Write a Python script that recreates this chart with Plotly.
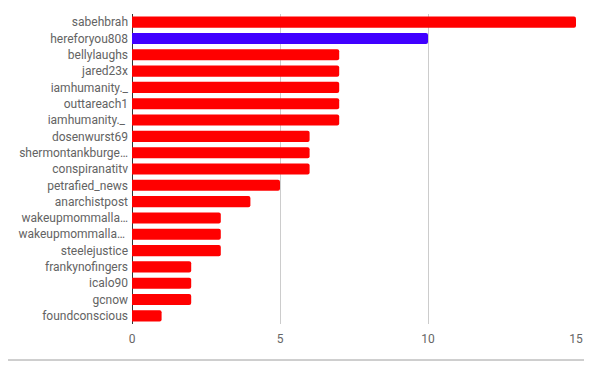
import plotly.graph_objects as go

names = ["sabehbrah", "hereforyou808", "bellylaughs", "jared23x", "iamhumanity._",
         "outtareach1", "iamhumanity._ ", "dosenwurst69", "shermontankburge…",
         "conspiranatitv", "petrafied_news", "anarchistpost", "wakeupmommalla…",
         "wakeupmommalla… ", "steelejustice", "frankynofingers", "icalo90", "gcnow",
         "foundconscious"]
values = [15, 10, 7, 7, 7, 7, 7, 6, 6, 6, 5, 4, 3, 3, 3, 2, 2, 2, 1]
colors = ["#ff0000", "#4000ff"] + ["#ff0000"] * 17
x_ticks = [0, 5, 10, 15]

fig = go.Figure(go.Bar(
    x=values, y=names, orientation="h",
    marker=dict(color=colors, line=dict(width=0), cornerradius=2),
    hoverinfo="x+y",
))

fig.update_layout(
    width=584, height=357,
    margin=dict(l=124, r=16, t=6, b=41),
    paper_bgcolor="white", plot_bgcolor="white",
    bargap=0.32,
    showlegend=False,
    font=dict(family="Roboto", size=12, color="#666666"),
    xaxis=dict(range=[0, 15], tickvals=x_ticks, showgrid=True, gridcolor="#cccccc",
               gridwidth=1, zeroline=True, zerolinecolor="#333333", zerolinewidth=1,
               showline=False, ticks="", ticklabelstandoff=6,
               tickfont=dict(size=12, color="#666666")),
    yaxis=dict(autorange="reversed", showgrid=False, ticks="", ticklen=0,
               ticklabelstandoff=3,
               tickfont=dict(size=12, color="#636363"), automargin=False),
    shapes=[dict(type="line", xref="paper", yref="paper",
                 x0=-132/444, x1=460/444, y0=-36/310, y1=-36/310,
                 line=dict(color="#9e9e9e", width=1))],
)

fig.write_html("out.html", config={"displayModeBar": False})
